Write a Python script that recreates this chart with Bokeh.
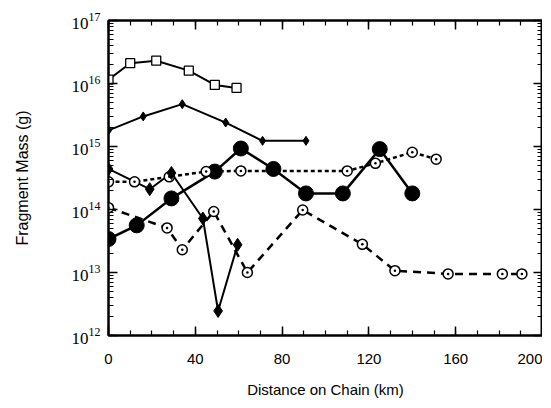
from bokeh.plotting import figure
from bokeh.models import LinearAxis, LogAxis, Range1d, LogTicker, SingleIntervalTicker, CustomJSTickFormatter
from bokeh.embed import file_html
from bokeh.resources import INLINE

# Open squares, solid line
sq_x = [0, 10, 22, 37, 49, 59]
sq_y = [1.15e16, 2.1e16, 2.3e16, 1.6e16, 9.5e15, 8.5e15]

# Small filled diamonds, solid line
sd_x = [0, 16, 34, 54, 71, 91]
sd_y = [1.8e15, 3.0e15, 4.7e15, 2.4e15, 1.23e15, 1.23e15]

# Large filled circles, solid line
bc_x = [0, 13, 29, 49, 61, 76, 91, 108, 125, 140]
bc_y = [3.4e13, 5.6e13, 1.5e14, 4.0e14, 9.3e14, 4.4e14, 1.8e14, 1.8e14, 9.1e14, 1.8e14]

# Open circles, dotted line
dc_x = [0, 12, 28, 45, 61, 110, 123, 140, 151]
dc_y = [2.75e14, 2.75e14, 3.3e14, 4.0e14, 4.1e14, 4.1e14, 5.4e14, 8.1e14, 6.3e14]

# Large filled diamonds, solid line
bd_x = [0, 19, 29, 43.5, 50.5, 59.5]
bd_y = [4.4e14, 2.1e14, 3.8e14, 7.2e13, 2.45e12, 2.75e13]

# Open circles, dashed line
oc_x = [0, 27, 34, 48.5, 64, 89.5, 117, 132, 156.5, 181.5, 190.5]
oc_y = [1.07e14, 5.1e13, 2.3e13, 9.3e13, 1.0e13, 9.8e13, 2.8e13, 1.07e13, 9.5e12, 9.5e12, 9.5e12]

x_title = "Distance on Chain (km)"
y_title = "Fragment Mass (g)"

p = figure(width=542, height=400, x_range=Range1d(0, 200), y_range=Range1d(1e12, 1e17),
           y_axis_type="log", output_backend="svg", toolbar_location=None,
           min_border_left=108, min_border_right=0, min_border_top=20, min_border_bottom=60)
p.grid.visible = False
p.outline_line_color = "black"
p.outline_line_width = 2
p.background_fill_color = "white"
p.border_fill_color = "white"

xt = SingleIntervalTicker(interval=40, num_minor_ticks=4)
yt = LogTicker(num_minor_ticks=10, desired_num_ticks=6)

xa = p.xaxis[0]
xa.ticker = xt
ya = p.yaxis[0]
ya.ticker = yt

for ax in (xa, ya):
    ax.axis_line_width = 2
    ax.major_tick_in = 9
    ax.major_tick_out = 0
    ax.minor_tick_in = 5
    ax.minor_tick_out = 0
    ax.major_tick_line_width = 1.5
    ax.minor_tick_line_width = 1.2
    ax.axis_label_text_font = "Liberation Sans"
    ax.axis_label_text_font_style = "normal"
    ax.axis_label_text_font_size = "15px"
    ax.axis_label_text_color = "black"
    ax.major_label_text_color = "black"

xa.axis_label = x_title
xa.major_label_text_font = "Liberation Sans"
xa.major_label_text_font_size = "15px"
xa.major_label_standoff = 18
xa.axis_label_standoff = 14

ya.axis_label = y_title
ya.axis_label_text_font_size = "16px"
ya.major_label_text_font = "Liberation Serif"
ya.major_label_text_font_size = "17px"
ya.major_label_standoff = 8
ya.axis_label_standoff = 38

top = LinearAxis(ticker=xt)
right = LogAxis(ticker=yt)
for ax in (top, right):
    ax.axis_line_width = 2
    ax.major_tick_in = 9
    ax.major_tick_out = 0
    ax.minor_tick_in = 5
    ax.minor_tick_out = 0
    ax.major_tick_line_width = 1.5
    ax.minor_tick_line_width = 1.2
    ax.major_label_text_font_size = "0px"
    ax.major_label_standoff = 0
    ax.formatter = CustomJSTickFormatter(code="return ''")
p.add_layout(top, "above")
p.add_layout(right, "right")

# lines
p.line(sq_x, sq_y, line_color="black", line_width=2)
p.line(sd_x, sd_y, line_color="black", line_width=2)
p.line(bc_x, bc_y, line_color="black", line_width=2.5)
p.line(dc_x, dc_y, line_color="black", line_width=2.5, line_dash="4 3")
p.line(bd_x, bd_y, line_color="black", line_width=2)
p.line(oc_x, oc_y, line_color="black", line_width=2.5, line_dash="8 6")

# markers
p.scatter(sq_x, sq_y, marker="square", size=9, fill_color="white", line_color="black", line_width=1.3)
p.scatter(sd_x, sd_y, marker="diamond", size=9, fill_color="black", line_color="black")
p.scatter(bc_x, bc_y, marker="circle", size=15, fill_color="black", line_color="black")
p.scatter(dc_x, dc_y, marker="circle_dot", size=10, fill_color="white", line_color="black", line_width=1.5)
p.scatter(bd_x, bd_y, marker="diamond", size=13, fill_color="black", line_color="black")
p.scatter(oc_x, oc_y, marker="circle_dot", size=10, fill_color="white", line_color="black", line_width=1.5)

open("out.html", "w").write(file_html(p, INLINE))
